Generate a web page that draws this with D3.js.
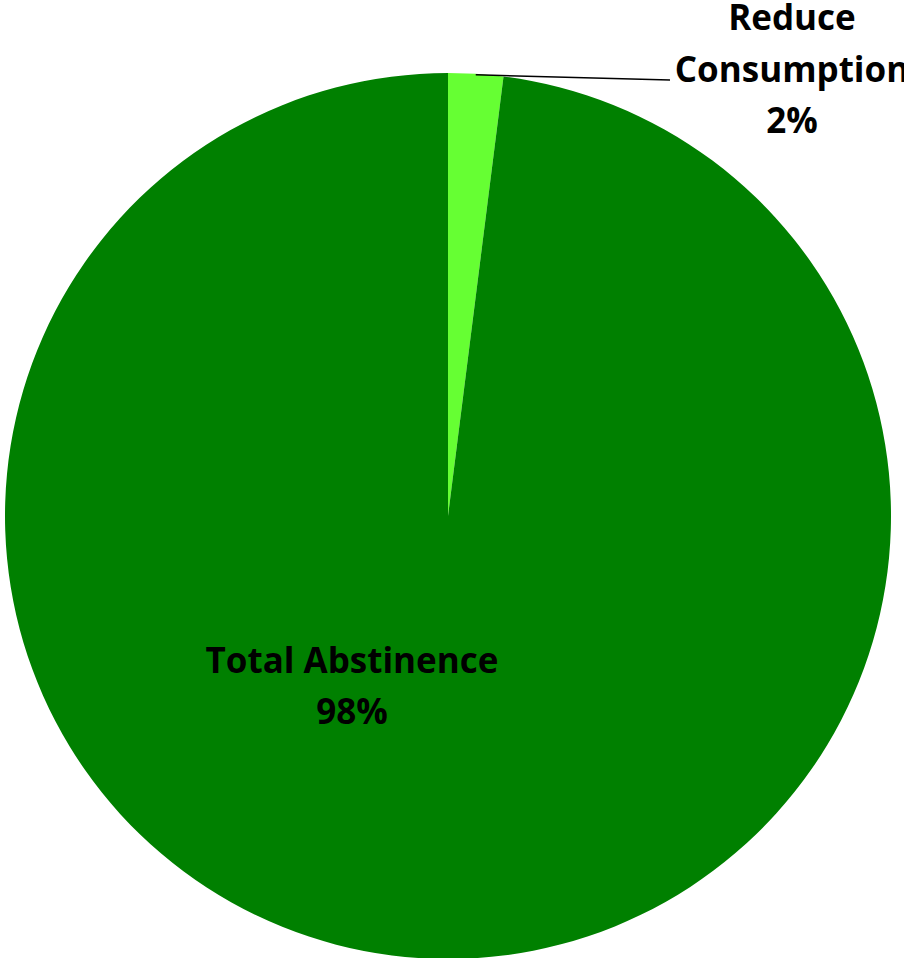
<!DOCTYPE html>
<html><head><meta charset="utf-8">
<script src="https://cdn.jsdelivr.net/npm/d3@7"></script>
<style>html,body{margin:0;padding:0;background:#fff;overflow:hidden}</style>
</head><body>
<svg id="c" width="904" height="958"></svg>
<script>
const categories = ["Reduce Consumption", "Total Abstinence"];
const values = [2, 98];
const colors = ["#66FF33", "#008000"];

const svg = d3.select("#c");
const cx = 448, cy = 516, r = 443;
const g = svg.append("g").attr("transform", `translate(${cx},${cy})`);
const data = categories.map((c, i) => ({cat: c, val: values[i], col: colors[i]}));
const pie = d3.pie().value(d => d.val).sort(null);
const arcs = pie(data);
const arc = d3.arc().innerRadius(0).outerRadius(r);
g.selectAll("path").data(arcs).join("path")
  .attr("d", arc).attr("fill", d => d.data.col);

const font = "'Open Sans', sans-serif";
const a0 = arcs[0];
const mid = (a0.startAngle + a0.endAngle) / 2;
const p1 = [Math.sin(mid) * (r - 1) + cx, -Math.cos(mid) * (r - 1) + cy];
svg.append("line").attr("x1", p1[0]).attr("y1", p1[1]).attr("x2", 670).attr("y2", 80)
  .attr("stroke", "#000").attr("stroke-width", 1.5);

const lab1 = svg.append("text").attr("font-family", font).attr("font-weight", 700)
  .attr("font-size", 35).attr("text-anchor", "middle").attr("fill", "#000");
lab1.append("tspan").attr("x", 792).attr("y", 30).text("Reduce");
lab1.append("tspan").attr("x", 792).attr("y", 82).text("Consumption");
lab1.append("tspan").attr("x", 792).attr("y", 133).text(values[0] + "%");

const lab2 = svg.append("text").attr("font-family", font).attr("font-weight", 700)
  .attr("font-size", 35).attr("text-anchor", "middle").attr("fill", "#000");
lab2.append("tspan").attr("x", 352).attr("y", 673).text("Total Abstinence");
lab2.append("tspan").attr("x", 352).attr("y", 724).text(values[1] + "%");
</script>
</body></html>
